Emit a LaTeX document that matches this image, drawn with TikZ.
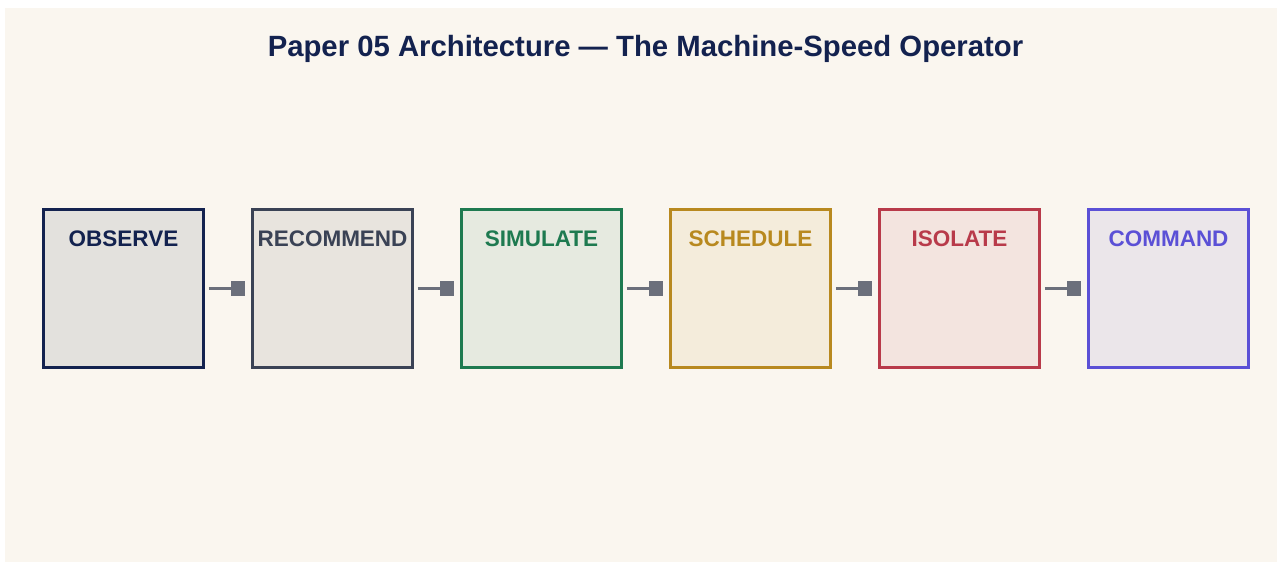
\documentclass[tikz,border=0pt]{standalone}
\usepackage{fontspec}
\setmainfont{Liberation Sans}
\usetikzlibrary{arrows.meta}
\definecolor{bgc}{HTML}{FAF6EF}
\definecolor{navy}{HTML}{13224F}
\definecolor{cA}{HTML}{13224F}\definecolor{fA}{HTML}{E3E1DD}
\definecolor{cB}{HTML}{3A4255}\definecolor{fB}{HTML}{E8E4DE}
\definecolor{cC}{HTML}{1E7A50}\definecolor{fC}{HTML}{E6EAE0}
\definecolor{cD}{HTML}{B8891F}\definecolor{fD}{HTML}{F4ECDB}
\definecolor{cE}{HTML}{B83A4A}\definecolor{fE}{HTML}{F3E4DF}
\definecolor{cF}{HTML}{5B50D6}\definecolor{fF}{HTML}{EBE6EA}
\definecolor{connc}{HTML}{6B6F7B}
\tikzset{
  stagebox/.style={draw=#1, line width=2.6pt, minimum width=160pt, minimum height=158pt, inner sep=0pt},
  stagelabel/.style={text=#1, font=\fontsize{22.5}{26}\selectfont\bfseries, inner sep=0pt, anchor=base},
  conn/.style={draw=connc, line width=2.6pt, -{Square[length=14pt,width=15pt]}},
}
\begin{document}
\begin{tikzpicture}[x=1pt,y=-1pt]
\useasboundingbox (0,0) rectangle (1282,563);
\fill[white] (0,0) rectangle (1282,563);
\fill[bgc] (5,8) rectangle (1277,562);
\node[text=navy, font=\fontsize{29.3}{33}\selectfont\bfseries, inner sep=0pt, anchor=base] (title) at (645.5,56.5) {Paper 05 Architecture — The Machine-Speed Operator};
\node[stagebox=cA, fill=fA] (b1) at (123.5,288.5) {};
\node[stagebox=cB, fill=fB] (b2) at (332.5,288.5) {};
\node[stagebox=cC, fill=fC] (b3) at (541.5,288.5) {};
\node[stagebox=cD, fill=fD] (b4) at (750.5,288.5) {};
\node[stagebox=cE, fill=fE] (b5) at (959.5,288.5) {};
\node[stagebox=cF, fill=fF] (b6) at (1168.5,288.5) {};
\node[stagelabel=cA] (l1) at (123.5,246) {OBSERVE};
\node[stagelabel=cB] (l2) at (332.5,246) {RECOMMEND};
\node[stagelabel=cC] (l3) at (541.5,246) {SIMULATE};
\node[stagelabel=cD] (l4) at (750.5,246) {SCHEDULE};
\node[stagelabel=cE] (l5) at (959.5,246) {ISOLATE};
\node[stagelabel=cF] (l6) at (1168.5,246) {COMMAND};
\foreach \a/\b in {b1/b2,b2/b3,b3/b4,b4/b5,b5/b6}
  \draw[conn] ([xshift=4pt]\a.east) -- ([xshift=-6pt]\b.west);
\end{tikzpicture}
\end{document}
